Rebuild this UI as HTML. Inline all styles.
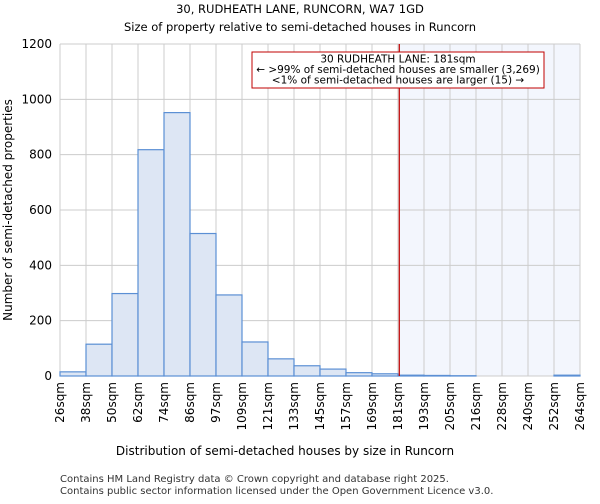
<!DOCTYPE html>
<html><head><meta charset="utf-8"><style>
body{margin:0;background:#fff;font-family:"DejaVu Sans","Liberation Sans",sans-serif;}
</style></head><body>
<svg width="600" height="500" viewBox="0 0 600 500" id="chart" font-family="DejaVu Sans, Liberation Sans, sans-serif">
<text x="300" y="13" text-anchor="middle" font-size="11.5">30, RUDHEATH LANE, RUNCORN, WA7 1GD</text>
<text x="300" y="31" text-anchor="middle" font-size="11.5">Size of property relative to semi-detached houses in Runcorn</text>
<g id="grid"></g><g id="bars"></g><g id="axes"></g>
<text x="285" y="455" text-anchor="middle" font-size="12">Distribution of semi-detached houses by size in Runcorn</text>
<text transform="translate(12,210) rotate(-90)" text-anchor="middle" font-size="12">Number of semi-detached properties</text>
<text x="60" y="482" font-size="10" fill="#333">Contains HM Land Registry data © Crown copyright and database right 2025.</text>
<text x="60" y="494" font-size="10" fill="#333">Contains public sector information licensed under the Open Government Licence v3.0.</text>
</svg>
<script>
const categories=["26sqm","38sqm","50sqm","62sqm","74sqm","86sqm","97sqm","109sqm","121sqm","133sqm","145sqm","157sqm","169sqm","181sqm","193sqm","205sqm","216sqm","228sqm","240sqm","252sqm","264sqm"];
const counts=[15,115,298,818,952,515,293,123,62,37,25,12,8,3,2,1,0,0,0,3];
const yTicks=[0,200,400,600,800,1000,1200];
const markerIndex=13.05;
const NS="http://www.w3.org/2000/svg";
const X0=60,X1=580,Y0=376,Y1=44,YMAX=1200;
const bw=(X1-X0)/(categories.length-1);
const xs=i=>X0+i*bw, ys=v=>Y0-(v/YMAX)*(Y0-Y1);
function mk(p,t,a){const e=document.createElementNS(NS,t);for(const k in a)e.setAttribute(k,a[k]);p.appendChild(e);return e;}
const grid=document.getElementById('grid'),bars=document.getElementById('bars'),axes=document.getElementById('axes');
const mx=xs(markerIndex);
const sh=mk(grid,'rect',{x:mx,y:Y1,width:X1-mx,height:Y0-Y1,fill:'#f3f6fd'});


yTicks.forEach(v=>{const l=mk(grid,'line',{x1:X0,x2:X1,y1:ys(v),y2:ys(v),stroke:'#cccccc'});


const t=mk(axes,'text',{x:X0-8,y:ys(v)+4,'text-anchor':'end','font-size':12});t.textContent=v;

});
categories.forEach((c,i)=>{const l=mk(grid,'line',{x1:xs(i),x2:xs(i),y1:Y1,y2:Y0,stroke:'#cccccc'});


const t=mk(axes,'text',{transform:`translate(${xs(i)+4},${Y0+6}) rotate(-90)`,'text-anchor':'end','font-size':12});t.textContent=c;

});
counts.forEach((v,i)=>{const r=mk(bars,'rect',{x:xs(i),y:ys(v),width:bw,height:Y0-ys(v),fill:'#dde6f4',stroke:'#5b8fd4','stroke-width':1.2});

});
const ml=mk(axes,'line',{x1:mx,x2:mx,y1:Y1,y2:Y0,stroke:'#c00000','stroke-width':1.2});


const bx=mk(axes,'rect',{x:252,y:52,width:292,height:36,fill:'#fff',stroke:'#c00000'});


["30 RUDHEATH LANE: 181sqm","← >99% of semi-detached houses are smaller (3,269)","<1% of semi-detached houses are larger (15) →"].forEach((s,i)=>{const t=mk(axes,'text',{x:398,y:62.5+i*10.5,'text-anchor':'middle','font-size':10.5});t.textContent=s;

});
</script>
</body></html>
